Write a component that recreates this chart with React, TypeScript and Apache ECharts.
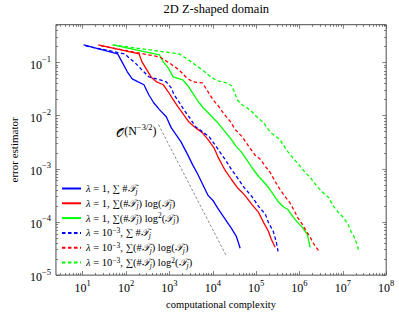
import React, { useEffect, useRef } from "react";
import * as echarts from "echarts";

const FONT = "'Liberation Serif', 'DejaVu Serif', serif";

// axis ranges (real values)
const complexityMin = 2.42;
const complexityMax = 1e8;
const errorMin = 1e-5;
const errorMax = 0.516;
const xMajorExponents = [1, 2, 3, 4, 5, 6, 7, 8];
const yMajorExponents = [-5, -4, -3, -2, -1];

const titleText = "2D Z-shaped domain";
const xName = "computational complexity";
const yName = "error estimator";

// λ = 1, Σ #T_j
const blueSolidN = [10.5, 64.1, 83.0, 107, 139, 190, 259, 335, 434, 590, 847, 1100, 1420, 1840, 2640, 3420, 4430, 5730, 7800, 10100, 13100, 18800, 27000, 34900, 42900];
const blueSolidErr = [0.215, 0.146, 0.0987, 0.067, 0.0494, 0.0434, 0.0382, 0.0248, 0.0175, 0.013, 0.00957, 0.00596, 0.0044, 0.00325, 0.00185, 0.0012, 0.000817, 0.00053, 0.000316, 0.000254, 0.00018, 0.000117, 7.59e-5, 5.37e-5, 3.2e-5];
// λ = 1, Σ (#T_j) log(T_j)
const redSolidN = [22.8, 200, 233, 302, 391, 506, 726, 940, 1220, 1570, 2150, 2780, 3990, 5730, 7800, 10600, 13100, 18800, 27000, 36700, 52700, 79700, 114000, 148000, 192000, 224000, 275000];
const redSolidErr = [0.215, 0.146, 0.103, 0.0729, 0.0516, 0.0434, 0.0382, 0.0282, 0.02, 0.0148, 0.0104, 0.00771, 0.00596, 0.0048, 0.00355, 0.00251, 0.0017, 0.00097, 0.00063, 0.000446, 0.00033, 0.000214, 0.000151, 9.82e-5, 6.67e-5, 4.72e-5, 3.33e-5];
// λ = 1, Σ (#T_j) log²(T_j)
const greenSolidN = [49.5, 590, 726, 940, 1220, 2040, 2780, 3420, 4660, 6030, 8650, 12400, 16100, 20800, 27000, 34900, 45200, 58500, 79700, 114000, 148000, 192000, 248000, 321000, 416000, 538000, 697000, 902000, 1.17e6, 1.51e6, 1.77e6];
const greenSolidErr = [0.215, 0.139, 0.103, 0.0796, 0.0539, 0.0473, 0.035, 0.027, 0.0183, 0.0141, 0.0104, 0.00771, 0.00596, 0.00459, 0.00355, 0.00262, 0.00211, 0.00156, 0.00106, 0.000717, 0.000578, 0.000446, 0.00033, 0.000243, 0.000196, 0.000172, 0.000127, 9.82e-5, 7.92e-5, 5.85e-5, 3.33e-5];
// λ = 1e-3, Σ #T_j
const blueDashedN = [11.7, 92, 119, 162, 233, 335, 506, 847, 1100, 1280, 1660, 2150, 2930, 3990, 5730, 8220, 11200, 16100, 20800, 27000, 36700, 52700, 79700, 114000, 164000, 192000, 248000, 290000, 321000];
const blueDashedErr = [0.206, 0.146, 0.122, 0.0987, 0.0729, 0.0539, 0.0494, 0.0434, 0.0335, 0.0248, 0.0183, 0.013, 0.00916, 0.00622, 0.00501, 0.00404, 0.00286, 0.00185, 0.00137, 0.00097, 0.000687, 0.000446, 0.000302, 0.000196, 0.000139, 9.82e-5, 6.67e-5, 4.33e-5, 2.81e-5];
// λ = 1e-3, Σ (#T_j) log(T_j)
const redDashedN = [26.7, 590, 990, 1660, 2380, 3420, 5730, 7800, 10100, 13800, 18800, 25600, 33100, 47500, 68200, 93100, 127000, 164000, 212000, 275000, 356000, 461000, 597000, 773000, 902000, 1.17e6, 1.36e6, 1.77e6, 2.17e6, 2.81e6];
const redDashedErr = [0.206, 0.128, 0.0987, 0.0729, 0.0539, 0.0434, 0.0416, 0.0282, 0.02, 0.0148, 0.0104, 0.00771, 0.00546, 0.00404, 0.00262, 0.00185, 0.00149, 0.0011, 0.000853, 0.000578, 0.000409, 0.000302, 0.000233, 0.000158, 0.000122, 9.01e-5, 7.26e-5, 5.14e-5, 3.8e-5, 2.81e-5];
// λ = 1e-3, Σ (#T_j) log²(T_j)
const greenDashedN = [49.5, 1660, 2380, 3420, 5730, 9590, 13100, 20800, 27000, 31500, 36700, 47500, 61500, 79700, 103000, 148000, 192000, 248000, 356000, 416000, 538000, 697000, 1.05e6, 1.36e6, 1.77e6, 2.54e6, 3.28e6, 4.71e6, 6.1e6, 7.89e6, 1.02e7, 1.32e7, 1.54e7, 1.8e7, 2.21e7, 2.33e7];
const greenDashedErr = [0.215, 0.146, 0.122, 0.0987, 0.0729, 0.0516, 0.0454, 0.0416, 0.0366, 0.0282, 0.02, 0.0161, 0.0141, 0.0119, 0.00957, 0.0074, 0.00546, 0.0044, 0.00355, 0.00286, 0.00211, 0.00163, 0.0011, 0.000853, 0.000687, 0.000466, 0.000375, 0.000289, 0.000196, 0.000151, 0.000122, 9.01e-5, 6.67e-5, 5.37e-5, 3.48e-5, 2.69e-5];
// O(N^{-3/2}) reference line
const refN = [561, 20800];
const refErr = [0.00678, 2.26e-5];

const seriesNames = [
  "λ = 1, ∑ #𝒯j",
  "λ = 1, ∑(#𝒯j) log(𝒯j)",
  "λ = 1, ∑(#𝒯j) log²(𝒯j)",
  "λ = 10⁻³, ∑ #𝒯j",
  "λ = 10⁻³, ∑(#𝒯j) log(𝒯j)",
  "λ = 10⁻³, ∑(#𝒯j) log²(𝒯j)",
];
const legendRich = [
  "{i|λ} = 1, ∑ #{c|𝒯}{sub|j}",
  "{i|λ} = 1, ∑(#{c|𝒯}{sub|j}) log({c|𝒯}{sub|j})",
  "{i|λ} = 1, ∑(#{c|𝒯}{sub|j}) log{sup|2}({c|𝒯}{sub|j})",
  "{i|λ} = 10{sup|−3}, ∑ #{c|𝒯}{sub|j}",
  "{i|λ} = 10{sup|−3}, ∑(#{c|𝒯}{sub|j}) log({c|𝒯}{sub|j})",
  "{i|λ} = 10{sup|−3}, ∑(#{c|𝒯}{sub|j}) log{sup|2}({c|𝒯}{sub|j})",
];
const seriesN = [blueSolidN, redSolidN, greenSolidN, blueDashedN, redDashedN, greenDashedN];
const seriesErr = [blueSolidErr, redSolidErr, greenSolidErr, blueDashedErr, redDashedErr, greenDashedErr];
const seriesColors = ["#0000ff", "#ff0000", "#00ff00", "#0000ff", "#ff0000", "#00ff00"];
const seriesDashed = [false, false, false, true, true, true];

const lg = Math.log10;
const supChars: Record<string, string> = { "-": "−" };
const expLabel = (v: number) => {
  const e = Math.round(v);
  const s = String(e).split("").map((ch) => supChars[ch] || ch).join("");
  return `{b|10}{s|${s}}`;
};

const FS = 10.5;
const rich = {
  i: { fontFamily: FONT, fontSize: FS, fontStyle: "italic", lineHeight: 13, color: "#000" },
  c: { fontFamily: FONT, fontSize: FS, fontStyle: "italic", lineHeight: 13, color: "#000" },
  sub: { fontFamily: FONT, fontSize: 7.5, fontStyle: "italic", lineHeight: 8, verticalAlign: "bottom", color: "#000" },
  sup: { fontFamily: FONT, fontSize: 7.5, lineHeight: 8, verticalAlign: "top", color: "#000" },
};
const tickRich = {
  b: { fontFamily: FONT, fontSize: 12, lineHeight: 16, verticalAlign: "bottom", color: "#000" },
  s: { fontFamily: FONT, fontSize: 8.5, lineHeight: 10, verticalAlign: "top", color: "#000" },
};

export default function App() {
  const ref = useRef<HTMLDivElement>(null);
  useEffect(() => {
    if (!ref.current) return;
    const chart = echarts.init(ref.current, undefined, { renderer: "svg" });
    const xMin = lg(complexityMin), xMax = lg(complexityMax);
    const yMin = lg(errorMin), yMax = lg(errorMax);
    const minorX: number[] = [];
    for (let k = 0; k <= 8; k++) for (let m = 2; m <= 9; m++) {
      const v = k + lg(m);
      if (v > xMin && v < xMax) minorX.push(v);
    }
    const minorY: number[] = [];
    for (let k = -6; k <= 0; k++) for (let m = 2; m <= 9; m++) {
      const v = k + lg(m);
      if (v > yMin && v < yMax) minorY.push(v);
    }
    const axisColor = "#4d4d4d";
    const mkX = (pos: string, major: boolean, main: boolean) => ({
      type: "value", position: pos, min: xMin, max: xMax, gridIndex: 0,
      axisLine: { show: false }, splitLine: { show: false },
      axisTick: { show: true, inside: true, length: major ? 4 : 2.2, customValues: major ? xMajorExponents : minorX, lineStyle: { color: axisColor, width: 0.7 } },
      axisLabel: main
        ? { show: true, margin: 3, customValues: xMajorExponents, formatter: expLabel, rich: tickRich }
        : { show: false },
      ...(main ? { name: xName, nameLocation: "middle", nameGap: 21, nameTextStyle: { fontFamily: FONT, fontSize: FS, color: "#000" } } : {}),
    });
    const mkY = (pos: string, major: boolean, main: boolean) => ({
      type: "value", position: pos, min: yMin, max: yMax, gridIndex: 0,
      axisLine: { show: false }, splitLine: { show: false },
      axisTick: { show: true, inside: true, length: major ? 4 : 2.2, customValues: major ? yMajorExponents : minorY, lineStyle: { color: axisColor, width: 0.7 } },
      axisLabel: main
        ? { show: true, margin: 5, customValues: yMajorExponents, formatter: expLabel, rich: tickRich }
        : { show: false },
      ...(main ? { name: yName, nameLocation: "middle", nameGap: 27, nameTextStyle: { fontFamily: FONT, fontSize: 11, color: "#000" } } : {}),
    });

    const series: any[] = seriesNames.map((name, i) => ({
      type: "line", name, xAxisIndex: 0, yAxisIndex: 0,
      data: seriesN[i].map((n, j) => [lg(n), lg(seriesErr[i][j])]),
      showSymbol: false, symbol: "none",
      lineStyle: { color: seriesColors[i], width: 1.3, type: seriesDashed[i] ? [3.5, 2.5] : "solid" },
      itemStyle: { color: seriesColors[i] },
      z: 3,
    }));
    series.push({
      type: "line", name: "ref", xAxisIndex: 0, yAxisIndex: 0,
      data: refN.map((n, j) => [lg(n), lg(refErr[j])]),
      showSymbol: false, symbol: "none",
      lineStyle: { color: "#333", width: 0.6, type: [2.5, 2] },
      z: 2,
    });

    chart.setOption({
      animation: false,
      backgroundColor: "#fff",
      textStyle: { fontFamily: FONT },
      grid: { left: 46.5, right: 12.8, top: 24.7, bottom: 39.1, show: true, borderColor: axisColor, borderWidth: 1, backgroundColor: "transparent" },
      xAxis: [mkX("bottom", true, true), mkX("bottom", false, false), mkX("top", true, false), mkX("top", false, false)],
      yAxis: [mkY("left", true, true), mkY("left", false, false), mkY("right", true, false), mkY("right", false, false)],
      legend: {
        data: seriesNames, orient: "vertical", left: 61, top: 182, padding: 0,
        itemWidth: 19, itemHeight: 8, itemGap: 1.8,
        itemStyle: { color: "transparent", borderColor: "transparent", borderWidth: 0, opacity: 0 },
        formatter: (name: string) => legendRich[seriesNames.indexOf(name)],
        textStyle: { fontFamily: FONT, fontSize: FS, lineHeight: 13, color: "#000", rich },
      },
      series,
    });
    const p = chart.convertToPixel({ xAxisIndex: 0, yAxisIndex: 0 }, [lg(refN[0]), lg(refErr[0])]) as number[];
    const titleX = 46.5 + (399 - 46.5 - 12.8) / 2;
    chart.setOption({
      graphic: [
        {
          type: "text", x: titleX, y: 9,
          style: { text: titleText, align: "center", verticalAlign: "middle", fontFamily: FONT, fontSize: 12.5, fill: "#000" },
        },
        {
          type: "text", x: p[0] - 2, y: p[1] + 6,
          style: {
            text: "{c|𝒪}(N{sup|−3/2})", align: "right", verticalAlign: "middle",
            fontFamily: FONT, fontSize: 12, fill: "#000", lineHeight: 16, rich: {
              c: { fontFamily: FONT, fontSize: 12, lineHeight: 16, verticalAlign: "bottom", fill: "#000" },
              sup: { fontFamily: FONT, fontSize: 8.5, lineHeight: 10, verticalAlign: "top", fill: "#000" },
            },
          },
        },
      ],
    });
    return () => chart.dispose();
  }, []);
  return <div ref={ref} style={{ position: "fixed", left: 0, top: 0, width: 399, height: 315 }} />;
}
